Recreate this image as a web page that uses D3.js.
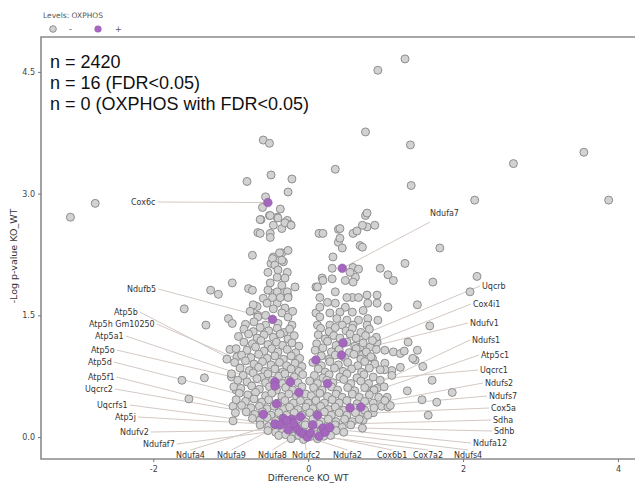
<!DOCTYPE html>
<html>
<head>
<meta charset="utf-8">
<script src="https://cdn.jsdelivr.net/npm/d3@7"></script>
<style>
  body { margin: 0; background: #fff; }
</style>
</head>
<body>
<div id="chart"></div>
<script>
// ---- data (Difference KO_WT, -Log p-value KO_WT) ----

// isolated points far from the cloud
var outliers = [
  [0.90,4.52],[1.25,4.66],[0.74,3.76],[1.32,3.60],[0.35,3.30],[1.33,3.10],
  [2.65,3.37],[3.56,3.51],[3.88,2.92],[2.15,2.92],[-3.07,2.71],[-2.75,2.88],
  [1.70,2.33],[1.25,2.14],[1.61,1.91],[2.18,1.98],[2.09,1.79],[1.41,1.63],
  [1.57,1.37],[1.60,0.70],[1.86,0.55],[1.66,0.43],[-1.60,1.58],[-1.63,0.70],
  [-1.34,0.73],[-1.54,0.47],[-1.26,1.81],[-1.16,1.76],[-1.32,1.38]
];

// upper left arm
var leftArm = [
  [-0.58,3.66],[-0.50,3.62],[-0.79,3.15],[-0.48,3.23],[-0.21,3.18],[-0.26,3.02],
  [-0.55,2.96],[-0.59,2.83],[-0.36,2.81],[-0.50,2.73],[-0.61,2.68],[-0.40,2.71],
  [-0.27,2.67],[-0.23,2.62],[-0.34,2.57],[-0.65,2.52],[-0.49,2.51],[-0.49,2.46],
  [-0.72,2.24],[-0.45,2.22],[-0.34,2.27],[-0.26,2.30],[-0.48,2.14],[-0.32,2.16],
  [-0.27,2.03],[-0.52,2.03],[-0.40,1.97],[-0.98,1.90],[-0.77,1.83],[-0.17,1.85],
  [-0.45,1.77],[-0.31,1.79],[-0.26,1.74],[0.10,1.85],[0.14,2.51],[-0.58,1.71],
  [-0.53,1.65],[-0.40,1.65],[-0.66,1.61],[-0.30,1.59],[-0.65,1.50],[0.10,1.53],
  [-0.62,2.68],[-0.49,2.73],[-0.39,2.70],[-0.30,2.64],[-0.22,2.61],[-0.45,2.61],
  [-0.62,2.51],[-0.37,2.27],[-0.46,2.20],[-0.34,2.18],[-0.43,2.12],[-0.39,2.06],
  [-0.30,1.96],[-0.72,1.81],[-0.49,1.90],[-0.34,1.87],[-0.52,1.81],[-0.40,1.79],
  [-0.27,1.79],[-0.46,1.72],[-0.36,1.72],[-0.26,1.72],[-0.71,1.63],[-0.65,1.48],
  [-0.55,1.50],[-0.34,1.53],[-0.26,1.48],[-0.39,1.40],[-0.21,1.38],[-0.55,1.38],
  [-0.75,1.55],[-0.45,1.58],[-0.20,1.55],[-0.70,1.42],
  [-1.03,1.46],[-0.98,1.40],[-0.81,1.39],[-1.01,1.08],[-1.05,0.96],[-0.92,0.99],
  [-0.99,0.74],[-0.93,0.58],[-0.97,0.38],[-0.94,0.30],[-0.97,0.20]
];

// upper right arm and its spread
var rightArm = [
  [0.19,2.51],[0.39,2.56],[0.58,2.51],[0.63,2.54],[0.76,2.59],[0.86,2.61],
  [0.74,2.73],[0.39,2.40],[0.67,2.36],[0.44,2.33],[0.32,2.22],[0.31,2.08],
  [0.58,2.09],[0.65,2.07],[0.18,1.96],[0.31,1.95],[0.48,1.93],[0.61,1.97],
  [0.58,1.91],[0.93,2.08],[1.03,2.00],[1.10,1.93],[0.12,1.85],[0.35,1.79],
  [0.57,1.72],[0.50,1.72],[0.65,1.72],[0.76,1.75],[0.89,1.75],[0.15,1.72],
  [0.25,1.66],[0.35,1.65],[0.48,1.60],[0.77,1.65],[0.89,1.65],[1.03,1.60],
  [0.15,1.60],[0.28,1.53],[0.41,1.54],[0.57,1.54],[0.71,1.56],[0.15,1.48],
  [0.37,1.46],[0.50,1.44],[0.65,1.44],[0.77,1.46],[0.90,1.44],[0.12,1.38],
  [0.28,1.38],[0.44,1.38],[0.58,1.38],[0.76,1.38],
  [0.76,2.76],[0.41,2.57],[0.70,2.61],[0.41,2.45],[0.70,2.34],[0.54,2.03],
  [0.19,1.93],[0.80,1.11],[0.89,1.17],[1.29,1.17],[1.41,1.07],[1.10,1.05],
  [1.19,1.03],[1.38,0.95],[1.48,0.87],[0.99,0.91],[1.08,0.82],[0.83,0.97],
  [0.67,1.11],[0.70,1.01],[1.28,0.57],[1.47,0.46],[1.55,0.27],[0.76,0.62],
  [0.89,0.60],[1.02,0.49],[0.95,0.38],[1.03,0.37],[0.70,0.30],[0.71,0.21],
  [0.84,0.30],[0.70,0.11],[0.99,1.07],[1.24,1.06],[1.35,0.97],[1.19,0.86],
  [1.08,0.76],[0.99,0.83],[1.06,0.39]
];

// dense lower cloud, read in horizontal bands
var baseCloud = [
  [-0.83,1.33],[-0.71,1.30],[-0.62,1.35],[-0.51,1.31],[-0.40,1.34],[-0.31,1.29],[-0.24,1.33],
  [0.16,1.34],[0.27,1.30],[0.35,1.35],[0.49,1.31],[0.57,1.34],[0.68,1.29],[0.79,1.33],
  [-0.90,1.24],[-0.77,1.27],[-0.66,1.22],[-0.57,1.26],[-0.45,1.23],[-0.36,1.27],[-0.26,1.21],[-0.18,1.25],
  [0.13,1.26],[0.22,1.21],[0.33,1.25],[0.41,1.22],[0.54,1.27],[0.62,1.22],[0.74,1.25],[0.88,1.23],
  [-0.83,1.17],[-0.72,1.15],[-0.61,1.19],[-0.52,1.14],[-0.41,1.17],[-0.33,1.13],[-0.21,1.16],[-0.12,1.12],
  [0.11,1.15],[0.25,1.18],[0.36,1.13],[0.50,1.17],[0.60,1.12],[0.71,1.16],[0.83,1.19],
  [-0.93,1.09],[-0.79,1.07],[-0.68,1.11],[-0.57,1.06],[-0.47,1.09],[-0.39,1.05],[-0.27,1.08],[-0.16,1.04],
  [0.09,1.07],[0.19,1.10],[0.30,1.05],[0.40,1.08],[0.53,1.04],[0.62,1.09],[0.75,1.05],[0.88,1.08],
  [-0.86,1.01],[-0.74,0.98],[-0.64,1.02],[-0.53,0.97],[-0.43,1.00],[-0.32,0.96],[-0.22,1.00],[-0.11,0.97],
  [0.17,1.00],[0.27,0.96],[0.35,1.01],[0.47,0.98],[0.59,1.02],[0.68,0.96],[0.81,0.99],
  [-0.95,0.92],[-0.81,0.94],[-0.70,0.90],[-0.59,0.93],[-0.48,0.89],[-0.37,0.92],[-0.28,0.88],[-0.17,0.91],[-0.08,0.87],
  [0.06,0.92],[0.17,0.88],[0.28,0.93],[0.39,0.89],[0.51,0.92],[0.64,0.88],[0.73,0.93],[0.86,0.90],
  [-0.88,0.85],[-0.76,0.82],[-0.64,0.86],[-0.56,0.81],[-0.43,0.84],[-0.33,0.80],[-0.22,0.84],[-0.12,0.81],
  [0.13,0.84],[0.22,0.80],[0.34,0.85],[0.45,0.81],[0.56,0.84],[0.69,0.80],[0.79,0.85],[0.93,0.83],
  [-0.99,0.78],[-0.84,0.76],[-0.71,0.79],[-0.60,0.74],[-0.52,0.78],[-0.38,0.75],[-0.30,0.78],[-0.18,0.74],[-0.07,0.77],
  [0.08,0.76],[0.19,0.73],[0.27,0.77],[0.41,0.74],[0.50,0.78],[0.63,0.73],[0.72,0.77],[0.84,0.74],
  [-0.91,0.70],[-0.79,0.68],[-0.66,0.72],[-0.55,0.67],[-0.46,0.70],[-0.33,0.66],[-0.25,0.70],[-0.13,0.67],
  [0.02,0.69],[0.12,0.66],[0.24,0.70],[0.32,0.67],[0.46,0.71],[0.55,0.66],[0.68,0.69],[0.78,0.66],[0.93,0.70],
  [-0.96,0.62],[-0.87,0.60],[-0.73,0.63],[-0.63,0.59],[-0.50,0.62],[-0.41,0.58],[-0.29,0.61],[-0.20,0.58],[-0.08,0.62],
  [0.07,0.61],[0.18,0.58],[0.30,0.62],[0.38,0.58],[0.51,0.61],[0.60,0.57],[0.73,0.61],[0.85,0.58],[0.98,0.62],
  [-0.89,0.54],[-0.78,0.52],[-0.68,0.55],[-0.55,0.51],[-0.47,0.54],[-0.34,0.50],[-0.25,0.53],[-0.15,0.50],[-0.03,0.53],
  [0.04,0.51],[0.15,0.54],[0.25,0.50],[0.36,0.53],[0.44,0.49],[0.57,0.53],[0.66,0.49],[0.79,0.52],[0.91,0.49],
  [-0.93,0.46],[-0.81,0.44],[-0.70,0.47],[-0.60,0.43],[-0.51,0.46],[-0.39,0.42],[-0.30,0.45],[-0.19,0.42],[-0.10,0.45],[0.00,0.42],
  [0.10,0.45],[0.21,0.42],[0.31,0.46],[0.40,0.42],[0.50,0.45],[0.63,0.41],[0.73,0.44],[0.84,0.42],[0.99,0.45],
  [-0.86,0.39],[-0.74,0.36],[-0.63,0.38],[-0.53,0.35],[-0.44,0.38],[-0.32,0.34],[-0.24,0.37],[-0.13,0.34],[-0.03,0.37],
  [0.06,0.35],[0.16,0.38],[0.26,0.34],[0.35,0.37],[0.46,0.33],[0.60,0.36],[0.73,0.33],[0.85,0.36],
  [-0.80,0.31],[-0.69,0.28],[-0.59,0.31],[-0.48,0.27],[-0.38,0.30],[-0.28,0.27],[-0.18,0.30],[-0.08,0.27],[0.02,0.30],
  [0.11,0.28],[0.21,0.31],[0.30,0.27],[0.40,0.30],[0.50,0.27],[0.61,0.30],[0.77,0.27],
  [-0.72,0.23],[-0.62,0.21],[-0.53,0.24],[-0.42,0.20],[-0.33,0.23],[-0.24,0.20],[-0.14,0.22],[-0.04,0.19],
  [0.06,0.22],[0.17,0.19],[0.26,0.22],[0.36,0.19],[0.47,0.22],[0.57,0.19],[0.66,0.22],
  [-0.62,0.15],[-0.51,0.13],[-0.43,0.16],[-0.33,0.12],[-0.24,0.15],[-0.13,0.12],[-0.04,0.15],
  [0.07,0.13],[0.14,0.16],[0.25,0.12],[0.35,0.15],[0.44,0.12],[0.55,0.15],
  [-0.52,0.08],[-0.42,0.06],[-0.33,0.09],[-0.24,0.06],[-0.16,0.08],[-0.06,0.06],
  [0.09,0.07],[0.17,0.09],[0.27,0.06],[0.36,0.08],[0.46,0.06],
  [-0.38,0.02],[-0.29,0.03],[-0.19,0.01],[-0.12,0.02],[0.04,0.01],[0.10,0.03],[0.20,0.01],[0.29,0.02],
  [-0.22,-0.02],[-0.06,-0.03],[0.12,-0.02]
];

// OXPHOS proteins (purple), name / x / y
var oxNames = ["Cox6c","Ndufa7","Ndufb5","Uqcrb","Cox4i1","Ndufv1","Atp5b","Atp5a1",
  "Atp5h Gm10250","Atp5o","Uqcrc1","Atp5d","Atp5f1","Ndufs2","Ndufs7","Cox5a",
  "Uqcrc2","Ndufa9","Atp5c1","Uqcrfs1","Atp5j","Ndufaf7","Ndufa8","Ndufc2",
  "Ndufa2","Cox6b1","Sdha","Ndufa12","Ndufs4","Sdhb","Ndufv2","Ndufs1","Cox7a2","Ndufa4"];
var oxX = [-0.52,0.44,-0.46,0.45,0.43,0.10,-0.43,-0.43,
  -0.23,-0.12,0.25,-0.41,-0.58,0.54,0.68,0.12,
  -0.32,-0.21,-0.10,-0.43,-0.36,-0.15,-0.10,-0.06,
  -0.01,0.03,0.06,0.19,0.22,0.28,-0.26,-0.19,0.14,-0.28];
var oxY = [2.89,2.08,1.45,1.16,1.01,0.95,0.68,0.63,
  0.68,0.55,0.66,0.41,0.28,0.36,0.37,0.27,
  0.23,0.22,0.25,0.16,0.15,0.11,0.06,0.04,
  0.00,0.05,0.15,0.11,0.06,0.12,0.09,0.17,0.01,0.20];

var infoLines = ["n = 2420", "n = 16 (FDR<0.05)", "n = 0 (OXPHOS with FDR<0.05)"];
var xTicks = [-2, 0, 2, 4];
var yTicks = [0, 1.5, 3.0, 4.5];

// ---- layout of the gene labels (pixels: x, y centre, side the leader leaves from) ----
var labelLayout = {
  "Cox6c": [131, 202, "l"], "Ndufb5": [127, 289, "l"], "Atp5b": [114, 312, "l"],
  "Atp5h Gm10250": [89, 324, "l"], "Atp5a1": [95, 336, "l"], "Atp5o": [91, 350, "l"],
  "Atp5d": [88, 362, "l"], "Atp5f1": [88, 377, "l"], "Uqcrc2": [85, 389, "l"],
  "Uqcrfs1": [97, 405, "l"], "Atp5j": [115, 417, "l"], "Ndufv2": [120, 432, "l"],
  "Ndufaf7": [143, 444, "l"],
  "Ndufa4": [176, 455, "b"], "Ndufa9": [217, 455, "b"], "Ndufa8": [258, 455, "b"],
  "Ndufc2": [292, 455, "b"], "Ndufa2": [333, 455, "b"], "Cox6b1": [377, 455, "b"],
  "Cox7a2": [413, 455, "b"], "Ndufs4": [454, 455, "b"],
  "Ndufa12": [473, 443, "r"], "Sdhb": [494, 431, "r"], "Sdha": [493, 420, "r"],
  "Cox5a": [491, 408, "r"], "Ndufs7": [489, 396, "r"], "Ndufs2": [485, 383, "r"],
  "Uqcrc1": [480, 370, "r"], "Atp5c1": [481, 355, "r"], "Ndufs1": [472, 340, "r"],
  "Ndufv1": [470, 323, "r"], "Cox4i1": [473, 304, "r"], "Uqcrb": [482, 286, "r"],
  "Ndufa7": [430, 213, "t"]
};

var svgWidth = 635;
var svgHeight = 489;

var svg = d3.select("#chart")
  .append("svg")
  .attr("width", svgWidth)
  .attr("height", svgHeight)
  .style("font-family", "'DejaVu Sans', sans-serif");

var plot = {left: 41, right: 635, top: 37, bottom: 459};

var xScale = d3.scaleLinear()
  .domain([-3.45, 4.22])
  .range([plot.left, plot.right]);

var yScale = d3.scaleLinear()
  .domain([-0.27, 4.93])
  .range([plot.bottom, plot.top]);

// leader lines first so circles sit on top
var leaders = svg.append("g").attr("class", "leaders");
var labels = svg.append("g").attr("class", "labels");

var grayPoints = outliers.concat(leftArm, rightArm, baseCloud);

svg.append("g")
  .selectAll("circle")
  .data(grayPoints)
  .enter()
  .append("circle")
  .attr("cx", d => xScale(d[0]))
  .attr("cy", d => yScale(d[1]))
  .attr("r", 4)
  .attr("fill", "#d2d2d2")
  .attr("stroke", "#8e8e8e")
  .attr("stroke-width", 1);

var oxData = oxNames.map((n, i) => ({name: n, x: oxX[i], y: oxY[i]}));

oxData.forEach(function(d) {
  var lay = labelLayout[d.name];
  var t = labels.append("text")
    .attr("x", lay[0])
    .attr("y", lay[1])
    .attr("dy", "0.35em")
    .attr("font-size", "8px")
    .attr("fill", "#333")
    .text(d.name);
  var w = t.node().getComputedTextLength();
  var sx, sy;
  if (lay[2] === "l") { sx = lay[0] + w + 2; sy = lay[1]; }
  else if (lay[2] === "r") { sx = lay[0] - 2; sy = lay[1]; }
  else if (lay[2] === "b") { sx = lay[0] + w / 2; sy = lay[1] - 5; }
  else { sx = lay[0]; sy = lay[1] + 9; }
  leaders.append("line")
    .attr("x1", sx).attr("y1", sy)
    .attr("x2", xScale(d.x)).attr("y2", yScale(d.y))
    .attr("stroke", "#d3c9c4")
    .attr("stroke-width", 1);
});

svg.append("g")
  .selectAll("circle")
  .data(oxData)
  .enter()
  .append("circle")
  .attr("cx", d => xScale(d.x))
  .attr("cy", d => yScale(d.y))
  .attr("r", 4.3)
  .attr("fill", "#a467bd")
  .attr("stroke", "#8d5aa3")
  .attr("stroke-width", 0.6);

// frame
svg.append("path")
  .attr("d", `M${plot.right},${plot.top}H${plot.left}V${plot.bottom}H${plot.right}`)
  .attr("fill", "none")
  .attr("stroke", "#8a8a8a")
  .attr("stroke-width", 1.6);

// axes
var bottomAxis = d3.axisBottom(xScale).tickValues(xTicks).tickSize(3).tickFormat(d => String(d));
var leftAxis = d3.axisLeft(yScale).tickValues(yTicks).tickSize(3).tickFormat(d3.format(".1f"));

var xAxis = svg.append("g")
  .attr("transform", `translate(0, ${plot.bottom})`)
  .call(bottomAxis);
var yAxis = svg.append("g")
  .attr("transform", `translate(${plot.left}, 0)`)
  .call(leftAxis);

[xAxis, yAxis].forEach(function(a) {
  a.select(".domain").remove();
  a.selectAll("line").attr("stroke", "#777");
  a.selectAll("text")
    .attr("font-family", "DejaVu Sans, sans-serif")
    .attr("font-size", "8px")
    .attr("fill", "#444");
});
xAxis.selectAll("text").attr("dy", "0.9em");

// axis titles
svg.append("text")
  .attr("x", xScale(0))
  .attr("y", 481)
  .attr("text-anchor", "middle")
  .attr("font-size", "9px")
  .attr("fill", "#333")
  .text("Difference KO_WT");

svg.append("text")
  .attr("transform", "rotate(-90)")
  .attr("x", -256)
  .attr("y", 17)
  .attr("text-anchor", "middle")
  .attr("font-size", "9.5px")
  .attr("fill", "#333")
  .text("-Log p-value KO_WT");

// legend
var legend = svg.append("g");
legend.append("text")
  .attr("x", 43).attr("y", 18)
  .attr("font-size", "7.5px")
  .attr("fill", "#555")
  .text("Levels: OXPHOS");
legend.append("circle").attr("cx", 53).attr("cy", 29).attr("r", 3.3)
  .attr("fill", "#d2d2d2").attr("stroke", "#8e8e8e");
legend.append("text").attr("x", 69).attr("y", 31.5).attr("font-size", "8px").attr("fill", "#555").text("-");
legend.append("circle").attr("cx", 98).attr("cy", 29).attr("r", 3.6)
  .attr("fill", "#a467bd");
legend.append("text").attr("x", 115).attr("y", 31.5).attr("font-size", "8px").attr("fill", "#555").text("+");

// counts text
svg.append("g")
  .selectAll("text")
  .data(infoLines)
  .enter()
  .append("text")
  .attr("x", 50)
  .attr("y", (d, i) => 68 + i * 21)
  .style("font-family", "'Liberation Sans', Arial, sans-serif")
  .attr("font-size", "18px")
  .attr("fill", "#111")
  .text(d => d);
</script>
</body>
</html>
